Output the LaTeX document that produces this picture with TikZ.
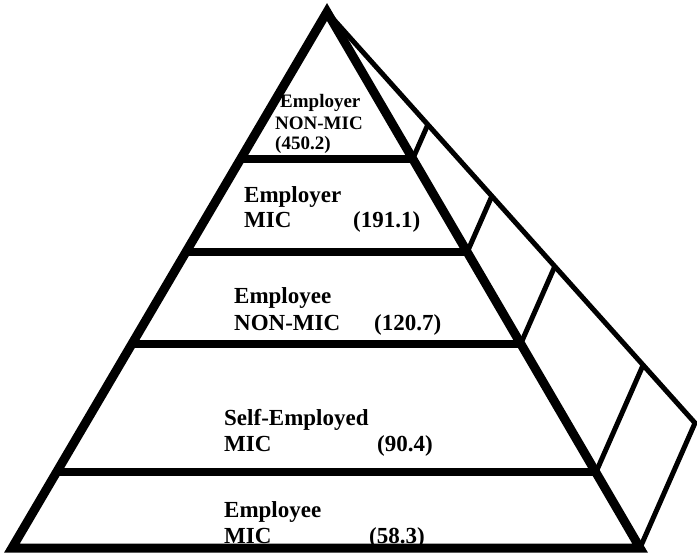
\documentclass[tikz,border=0pt]{standalone}
\usepackage{fontspec}
\setmainfont{Liberation Serif}
\usetikzlibrary{calc}
\begin{document}
\begin{tikzpicture}[x=1pt, y=-1pt,
    face/.style={line width=9pt, line join=miter},
    tier/.style={line width=8pt},
    side/.style={line width=5pt, line join=round},
    lbl/.style={font=\bfseries\fontsize{23}{25}\selectfont, inner sep=0pt, anchor=base west},
    toplbl/.style={lbl, font=\bfseries\fontsize{19}{21}\selectfont}]
    \useasboundingbox (0, 0) rectangle (697, 556);
    \coordinate (apex) at (327, 12);
    \coordinate (bl) at (12, 548);
    \coordinate (br) at (640, 548);
    \coordinate (back) at (695, 423);
    % right face
    \draw[side] (apex) -- (back) -- (br);
    \foreach \t in {0.274, 0.448, 0.619, 0.859}
      \draw[side] ($(apex)!\t!(br)$) -- ($(apex)!\t!(back)$);
    % front face and tiers
    \foreach \t in {0.274, 0.448, 0.619, 0.859}
      \draw[tier] ($(apex)!\t!(bl)$) -- ($(apex)!\t!(br)$);
    \draw[face] (apex) -- (bl) -- (br) -- cycle;
    % labels
    \node[toplbl] (ernm) at (280, 108) {Employer};
    \node[toplbl] (ernmb) at (275, 130) {NON-MIC};
    \node[toplbl] (ernmv) at (275, 150) {(450.2)};
    \node[lbl] (erm) at (244, 203) {Employer};
    \node[lbl] (ermb) at (244, 228) {MIC};
    \node[lbl] (ermv) at (353, 228) {(191.1)};
    \node[lbl] (eenm) at (234, 304) {Employee};
    \node[lbl] (eenmb) at (234, 331) {NON-MIC};
    \node[lbl] (eenmv) at (374, 331) {(120.7)};
    \node[lbl] (sem) at (224, 425) {Self-Employed};
    \node[lbl] (semb) at (224, 451) {MIC};
    \node[lbl] (semv) at (377, 451) {(90.4)};
    \node[lbl] (eem) at (224, 517) {Employee};
    \node[lbl] (eemb) at (224, 543) {MIC};
    \node[lbl] (eemv) at (369, 543) {(58.3)};
  \end{tikzpicture}
\end{document}
